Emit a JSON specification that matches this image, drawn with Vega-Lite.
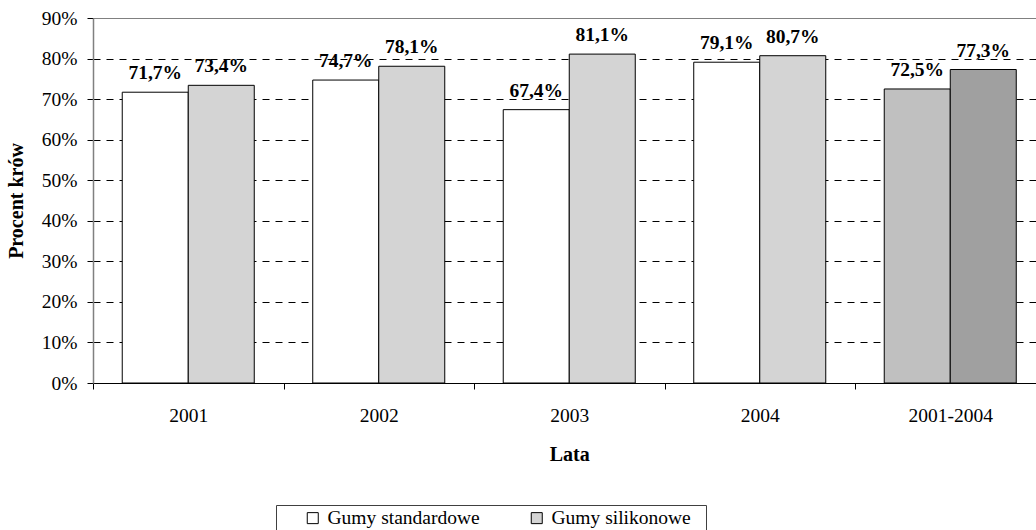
{
  "$schema": "https://vega.github.io/schema/vega-lite/v6.json",
  "autosize": "none",
  "padding": {"left": 93, "top": 18, "right": 0, "bottom": 147},
  "width": 943,
  "height": 365,
  "background": "white",
  "data": {
    "values": [
      {"rok": "2001", "typ": "Gumy standardowe", "seria": "Gumy standardowe", "wartosc": 0.717},
      {"rok": "2001", "typ": "Gumy silikonowe", "seria": "Gumy silikonowe", "wartosc": 0.734},
      {"rok": "2002", "typ": "Gumy standardowe", "seria": "Gumy standardowe", "wartosc": 0.747},
      {"rok": "2002", "typ": "Gumy silikonowe", "seria": "Gumy silikonowe", "wartosc": 0.781},
      {"rok": "2003", "typ": "Gumy standardowe", "seria": "Gumy standardowe", "wartosc": 0.674},
      {"rok": "2003", "typ": "Gumy silikonowe", "seria": "Gumy silikonowe", "wartosc": 0.811},
      {"rok": "2004", "typ": "Gumy standardowe", "seria": "Gumy standardowe", "wartosc": 0.791},
      {"rok": "2004", "typ": "Gumy silikonowe", "seria": "Gumy silikonowe", "wartosc": 0.807},
      {"rok": "2001-2004", "typ": "Gumy standardowe", "seria": "Gumy standardowe 2001-2004", "wartosc": 0.725},
      {"rok": "2001-2004", "typ": "Gumy silikonowe", "seria": "Gumy silikonowe 2001-2004", "wartosc": 0.773}
    ]
  },
  "encoding": {
    "x": {
      "field": "rok",
      "type": "nominal",
      "sort": null,
      "scale": {"range": [0, 952.5], "paddingInner": 0, "paddingOuter": 0},
      "axis": {
        "title": "Lata",
        "labelAngle": 0,
        "tickBand": "extent",
        "grid": false,
        "domainColor": "black",
        "tickColor": "black",
        "tickSize": 6,
        "labelPadding": 17,
        "titlePadding": 20
      }
    },
    "xOffset": {
      "field": "typ",
      "type": "nominal",
      "sort": ["Gumy standardowe", "Gumy silikonowe"],
      "scale": {"paddingInner": 0, "paddingOuter": 0.443}
    },
    "y": {
      "field": "wartosc",
      "type": "quantitative",
      "scale": {"domain": [0, 0.9], "nice": false},
      "axis": {
        "title": "Procent krów",
        "values": [0, 0.1, 0.2, 0.3, 0.4, 0.5, 0.6, 0.7, 0.8, 0.9],
        "format": ".0%",
        "grid": true,
        "gridColor": {"condition": {"test": "datum.value >= 0.85", "value": "#808080"}, "value": "black"},
        "gridDash": {"condition": {"test": "datum.value >= 0.85", "value": []}, "value": [7, 6]},
        "gridOpacity": {"condition": {"test": "datum.value == 0", "value": 0}, "value": 1},
        "domainColor": "#808080",
        "domainWidth": 1.5,
        "tickColor": "black",
        "tickSize": 6,
        "labelPadding": 10,
        "titlePadding": 15
      }
    }
  },
  "layer": [
    {
      "mark": {"type": "bar", "stroke": "black", "strokeWidth": 1},
      "encoding": {
        "fill": {
          "field": "seria",
          "type": "nominal",
          "scale": {
            "domain": ["Gumy standardowe", "Gumy silikonowe", "Gumy standardowe 2001-2004", "Gumy silikonowe 2001-2004"],
            "range": ["#ffffff", "#d4d4d4", "#c0c0c0", "#a0a0a0"]
          },
          "legend": {
            "values": ["Gumy standardowe", "Gumy silikonowe"],
            "orient": "none",
            "legendX": 183,
            "legendY": 487,
            "direction": "horizontal",
            "title": "\u00a0",
            "titleOrient": "right",
            "titleFontSize": 1,
            "titlePadding": 12,
            "symbolType": "square",
            "symbolSize": 121,
            "symbolStrokeColor": "black",
            "symbolStrokeWidth": 1,
            "symbolOffset": 24,
            "labelOffset": 5,
            "labelFontSize": 19.5,
            "labelFont": "Liberation Serif",
            "labelColor": "black",
            "labelLimit": 300,
            "strokeColor": "#404040",
            "fillColor": "white",
            "padding": 3,
            "columnPadding": 23
          }
        }
      }
    },
    {
      "mark": {"type": "text", "baseline": "alphabetic", "dy": -13, "font": "Liberation Serif", "fontSize": 19.5, "fontWeight": "bold", "color": "black"},
      "encoding": {"text": {"field": "wartosc", "type": "quantitative", "format": ".1%"}}
    }
  ],
  "config": {
    "locale": {"number": {"decimal": ",", "thousands": " ", "grouping": [3], "currency": ["", " zł"]}},
    "view": {"stroke": null},
    "font": "Liberation Serif",
    "axis": {
      "labelFont": "Liberation Serif",
      "labelFontSize": 19.5,
      "labelColor": "black",
      "titleFont": "Liberation Serif",
      "titleFontSize": 20,
      "titleFontWeight": "bold",
      "titleColor": "black"
    }
  }
}
